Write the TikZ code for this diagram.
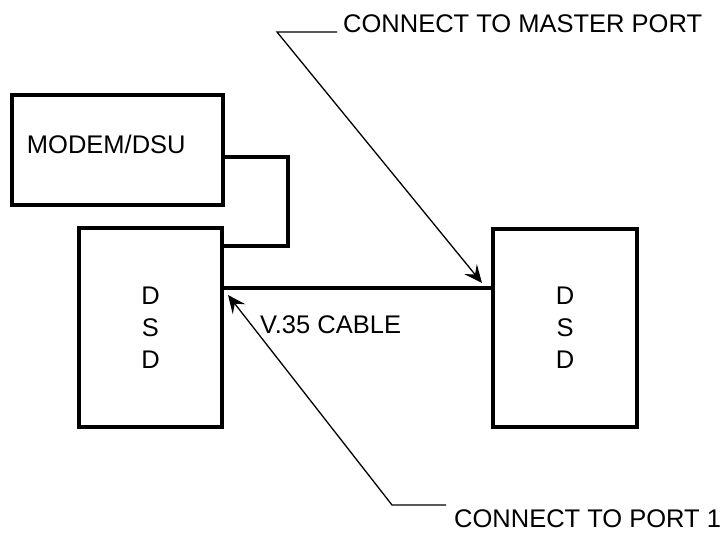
\documentclass[tikz,border=0pt]{standalone}
\usepackage{fontspec}
\setmainfont{Liberation Sans}
\usetikzlibrary{arrows.meta}

\begin{document}
\begin{tikzpicture}[x=1pt, y=-1pt, font=\fontsize{25.5}{32}\selectfont,
  >={Stealth[length=18pt,width=16pt,inset=7pt]}, line join=miter,
  unit/.style={draw, line width=3.2pt, inner sep=0pt},
  wire/.style={line width=3.2pt},
  leader/.style={line width=1.3pt}]

\useasboundingbox (0,0) rectangle (726,534);

% ---------- units ----------
\node[unit, minimum width=211pt, minimum height=110pt, text width=181pt, align=left,
  text depth=12pt] (modem) at (117.5,150) {MODEM/DSU};
\node[unit, minimum width=143pt, minimum height=199pt, align=center]
  (dsdL) at (150.5,327.5) {D\\S\\D};
\node[unit, minimum width=144pt, minimum height=198pt, align=center]
  (dsdR) at (565,328) {D\\S\\D};

% ---------- wiring ----------
\coordinate (linkX) at (288,0);
\coordinate (linkY) at (0,246);
\draw[wire] ([yshift=-7pt]modem.east) -| (linkX |- linkY) -- (dsdL.east |- linkY);

\coordinate (cableY) at (0,288);
\draw[wire] (dsdL.east |- cableY) -- (dsdR.west |- cableY);
\node[anchor=west, inner sep=0pt] (cable) at (260,325) {V.35 CABLE};

% ---------- callouts ----------
\node[anchor=west, inner sep=0pt] (master) at (343,24) {CONNECT TO MASTER PORT};
\coordinate (masterKnee) at (277,32);
\coordinate (masterTip) at (482,283);
\draw[leader,->] ([xshift=-6pt,yshift=-8pt]master.west) -- (masterKnee) -- (masterTip);

\node[anchor=west, inner sep=0pt] (port) at (454,519) {CONNECT TO PORT 1};
\coordinate (portKnee) at (392,505);
\coordinate (portTip) at (228,295);
\draw[leader,->] ([xshift=-8pt,yshift=14pt]port.west) -- (portKnee) -- (portTip);

\end{tikzpicture}
\end{document}
